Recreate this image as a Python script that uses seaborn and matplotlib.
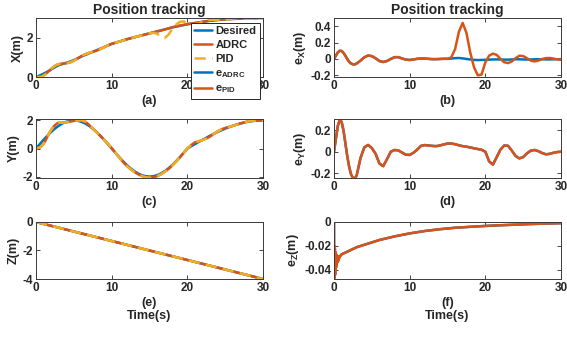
import numpy as np
import matplotlib
matplotlib.use("Agg")
import matplotlib.pyplot as plt
import seaborn as sns

# ---------------- data ----------------
t = [0, 0.25, 0.5, 0.75, 1, 1.25, 1.5, 1.75, 2, 2.25, 2.5, 2.75, 3,
     3.5, 4, 4.5, 5, 5.5, 6, 6.5, 7, 7.5, 8, 8.5, 9, 9.5, 10, 10.5, 11, 11.5, 12, 12.5, 13,
     13.5, 14, 14.5, 15, 15.5, 16, 16.5, 17, 17.5, 18, 18.5, 19, 19.5, 20, 20.5, 21, 21.5,
     22, 22.5, 23, 23.5, 24, 24.5, 25, 25.5, 26, 26.5, 27, 27.5, 28, 28.5, 29, 29.5, 30]

x_des = [0, 0.04, 0.08, 0.12, 0.17, 0.22, 0.27, 0.32, 0.38, 0.44, 0.5, 0.55, 0.6,
         0.66, 0.72, 0.78, 0.86, 0.95, 1.04, 1.12, 1.2, 1.28, 1.36,
         1.44, 1.52, 1.6, 1.68, 1.74, 1.8, 1.86, 1.92, 1.97, 2.02,
         2.07, 2.12, 2.17, 2.22, 2.27, 2.32, 2.37, 2.42, 2.47, 2.52,
         2.56, 2.6, 2.64, 2.68, 2.71, 2.74, 2.77, 2.8, 2.83, 2.86,
         2.88, 2.9, 2.92, 2.93, 2.94, 2.95, 2.96, 2.97, 2.98, 2.98,
         2.99, 2.99, 3.0, 3.0]

ex_adrc = [0, 0.04, 0.08, 0.10, 0.098, 0.075, 0.04, 0.0, -0.035, -0.055, -0.065, -0.066, -0.055,
           -0.02, 0.02, 0.042, 0.035, 0.008, -0.025, -0.037, -0.025, 0.0, 0.022,
           0.022, 0.006, -0.008, -0.012, -0.006, 0.002, 0.006, 0.005, 0.001, -0.002,
           -0.002, 0.0, 0.002, 0.002, 0.005, 0.01, 0.012, 0.007, 0.0, -0.006,
           -0.011, -0.013, -0.012, -0.01, -0.008, -0.006, -0.005, -0.006, -0.008, -0.008,
           -0.006, -0.004, -0.004, -0.006, -0.007, -0.006, -0.004, -0.003, -0.004, -0.005,
           -0.005, -0.004, -0.003, -0.003]

ex_pid = [0, 0.04, 0.08, 0.10, 0.098, 0.075, 0.04, 0.0, -0.035, -0.055, -0.065, -0.066, -0.055,
          -0.02, 0.02, 0.042, 0.035, 0.008, -0.025, -0.037, -0.025, 0.0, 0.022,
          0.022, 0.006, -0.008, -0.012, -0.006, 0.002, 0.006, 0.005, 0.001, -0.002,
          -0.002, 0.0, 0.002, 0.002, 0.02, 0.12, 0.33, 0.44, 0.32, 0.08,
          -0.1, -0.2, -0.19, -0.04, 0.04, 0.065, 0.05, 0.0, -0.04, -0.05,
          -0.03, 0.01, 0.04, 0.035, 0.01, -0.02, -0.03, -0.02, 0.0, 0.01,
          0.012, 0.005, -0.005, -0.01]

y_des = [0, 0.157, 0.313, 0.468, 0.618, 0.765, 0.908, 1.045, 1.176, 1.299, 1.414, 1.52, 1.618,
         1.782, 1.902, 1.975, 2.0, 1.975, 1.902, 1.782, 1.618, 1.414, 1.176,
         0.908, 0.618, 0.313, 0.0, -0.313, -0.618, -0.908, -1.176, -1.414, -1.618,
         -1.782, -1.902, -1.975, -2.0, -1.975, -1.902, -1.782, -1.618, -1.414, -1.176,
         -0.908, -0.618, -0.313, 0.0, 0.157, 0.313, 0.468, 0.618, 0.765, 0.908,
         1.045, 1.176, 1.299, 1.414, 1.52, 1.618, 1.705, 1.782, 1.848, 1.902,
         1.944, 1.975, 1.994, 2.0]

ey_adrc = [0, 0.12, 0.24, 0.295, 0.28, 0.2, 0.08, -0.04, -0.14, -0.21, -0.245, -0.25, -0.22,
           -0.06, 0.04, 0.063, 0.035, -0.02, -0.11, -0.135, -0.07, 0.0, 0.016,
           0.012, -0.008, -0.028, -0.03, -0.01, 0.02, 0.055, 0.062, 0.058, 0.054,
           0.052, 0.058, 0.068, 0.076, 0.077, 0.07, 0.06, 0.052, 0.047, 0.04,
           0.032, 0.025, 0.018, 0.0, -0.09, -0.12, -0.05, 0.02, 0.058, 0.055,
           0.01, -0.04, -0.062, -0.05, -0.015, 0.01, 0.016, 0.005, -0.012, -0.024,
           -0.02, -0.01, -0.003, 0.0]
ey_pid = list(ey_adrc)

t_z = [0, 30]
z_des = [0.0, -4.0]
z_adrc = [0.0, -4.0]
z_pid = [0.0, -4.0]

t_ez = [0, 0.02, 0.05, 0.08, 0.11, 0.14, 0.17, 0.2, 0.23, 0.26, 0.3, 0.34, 0.38, 0.42,
        0.46, 0.5, 0.55, 0.6, 0.65, 0.7, 0.8, 1.0, 2, 3, 4, 5, 6, 8, 10, 12, 14, 16,
        18, 20, 22, 24, 26, 28, 30]
ez_adrc = [0, -0.047, -0.02, -0.045, -0.022, -0.044, -0.025, -0.04, -0.026, -0.038, -0.027,
           -0.036, -0.028, -0.034, -0.029, -0.033, -0.029, -0.032, -0.029, -0.03, -0.0285,
           -0.027, -0.024, -0.021, -0.019, -0.017, -0.015, -0.012, -0.0095, -0.0075, -0.006,
           -0.0048, -0.004, -0.0033, -0.0027, -0.0022, -0.0017, -0.0013, -0.001]
ez_pid = list(ez_adrc)

# actual = desired - error
x_adrc = np.array(x_des) - np.array(ex_adrc)
x_pid = np.array(x_des) - np.array(ex_pid)
y_adrc = np.array(y_des) - np.array(ey_adrc)
y_pid = np.array(y_des) - np.array(ey_pid)

# ---------------- style ----------------
sns.set_style("white")
plt.rcParams.update({
    "font.family": ["Liberation Sans", "DejaVu Sans"],
    "font.weight": "bold",
    "axes.labelweight": "bold",
    "axes.titleweight": "bold",
    "axes.unicode_minus": False,
    "mathtext.fontset": "custom",
    "mathtext.rm": "Liberation Sans:bold",
    "mathtext.it": "Liberation Sans:bold",
    "mathtext.bf": "Liberation Sans:bold",
    "xtick.direction": "in",
    "ytick.direction": "in",
    "xtick.top": True,
    "ytick.right": True,
    "xtick.bottom": True,
    "ytick.left": True,
    "xtick.major.size": 3,
    "ytick.major.size": 3,
    "xtick.major.width": 0.6,
    "ytick.major.width": 0.6,
    "xtick.color": "#262626",
    "ytick.color": "#262626",
    "xtick.labelsize": 8.5,
    "ytick.labelsize": 8.5,
    "axes.edgecolor": "#3a3a3a",
    "axes.linewidth": 0.7,
    "axes.labelsize": 9,
})

BLUE = "#0072BD"
ORANGE = "#D95319"
YELLOW = "#EDB120"
LW = 1.8

fig = plt.figure(figsize=(5.67, 3.39), dpi=100)
W = 0.4004
lx, rx = 36 / 567, 334 / 567
rows = [(1 - 77 / 339, 59 / 339), (1 - 178 / 339, 59 / 339), (1 - 279 / 339, 57 / 339)]
ax_a = fig.add_axes([lx, rows[0][0], W, rows[0][1]])
ax_b = fig.add_axes([rx, rows[0][0], W, rows[0][1]])
ax_c = fig.add_axes([lx, rows[1][0], W, rows[1][1]])
ax_d = fig.add_axes([rx, rows[1][0], W, rows[1][1]])
ax_e = fig.add_axes([lx, rows[2][0], W, rows[2][1]])
ax_f = fig.add_axes([rx, rows[2][0], W, rows[2][1]])


def three(ax, tt, d, a, p):
    sns.lineplot(x=tt, y=d, ax=ax, color=BLUE, lw=LW, errorbar=None, legend=False)
    sns.lineplot(x=tt, y=a, ax=ax, color=ORANGE, lw=LW, errorbar=None, legend=False)
    sns.lineplot(x=tt, y=p, ax=ax, color=YELLOW, lw=LW, errorbar=None, legend=False)
    ax.lines[-1].set_dashes([4.5, 2.5])


def two(ax, tt, a, p):
    sns.lineplot(x=tt, y=a, ax=ax, color=BLUE, lw=LW, errorbar=None, legend=False)
    sns.lineplot(x=tt, y=p, ax=ax, color=ORANGE, lw=LW, errorbar=None, legend=False)


three(ax_a, t, x_des, x_adrc, x_pid)
two(ax_b, t, ex_adrc, ex_pid)
three(ax_c, t, y_des, y_adrc, y_pid)
two(ax_d, t, ey_adrc, ey_pid)
three(ax_e, t_z, z_des, z_adrc, z_pid)
two(ax_f, t_ez, ez_adrc, ez_pid)

for ax in [ax_a, ax_b, ax_c, ax_d, ax_e, ax_f]:
    ax.set_xlim(0, 30)
    ax.set_xticks([0, 10, 20, 30])
    ax.tick_params(pad=2)
    for s in ax.spines.values():
        s.set_visible(True)

ax_a.set_ylim(0, 3.0); ax_a.set_yticks([0, 2])
ax_b.set_ylim(-0.22, 0.5); ax_b.set_yticks([-0.2, 0, 0.2, 0.4])
ax_b.set_yticklabels(["-0.2", "0", "0.2", "0.4"])
ax_c.set_ylim(-2.1, 2.1); ax_c.set_yticks([-2, 0, 2])
ax_d.set_ylim(-0.245, 0.305); ax_d.set_yticks([-0.2, 0, 0.2])
ax_d.set_yticklabels(["-0.2", "0", "0.2"])
ax_e.set_ylim(-4, 0); ax_e.set_yticks([-4, -2, 0])
ax_f.set_ylim(-0.0475, 0); ax_f.set_yticks([-0.04, -0.02, 0])
ax_f.set_yticklabels(["-0.04", "-0.02", "0"])

ax_a.set_ylabel("X(m)", labelpad=2)
ax_c.set_ylabel("Y(m)", labelpad=2)
ax_e.set_ylabel("Z(m)", labelpad=2)
ax_b.set_ylabel(r"e$_\mathrm{X}$(m)", labelpad=2)
ax_d.set_ylabel(r"e$_\mathrm{Y}$(m)", labelpad=2)
ax_f.set_ylabel(r"e$_\mathrm{Z}$(m)", labelpad=2)

ax_a.set_xlabel("(a)", labelpad=2)
ax_b.set_xlabel("(b)", labelpad=2)
ax_c.set_xlabel("(c)", labelpad=2)
ax_d.set_xlabel("(d)", labelpad=2)
ax_e.set_xlabel("(e)\nTime(s)", labelpad=2, linespacing=1.15)
ax_f.set_xlabel("(f)\nTime(s)", labelpad=2, linespacing=1.15)

ax_a.set_title("Position tracking", fontsize=10, fontweight="bold", pad=3)
ax_b.set_title("Position tracking", fontsize=10, fontweight="bold", pad=3)

handles = [ax_a.lines[0], ax_a.lines[1], ax_a.lines[2], ax_b.lines[0], ax_b.lines[1]]
labels = ["Desired", "ADRC", "PID", r"e$_\mathrm{ADRC}$", r"e$_\mathrm{PID}$"]
leg = ax_a.legend(handles, labels, loc="upper right", bbox_to_anchor=(0.985, 0.92),
                  fontsize=8, frameon=True, fancybox=False, framealpha=1,
                  edgecolor="#262626", handlelength=1.6, handletextpad=0.3,
                  borderpad=0.3, labelspacing=0.35, borderaxespad=0)
leg.get_frame().set_linewidth(0.7)
leg.set_zorder(10)
for txt in leg.get_texts():
    txt.set_fontweight("bold")

fig.savefig("out.png", dpi=100)
